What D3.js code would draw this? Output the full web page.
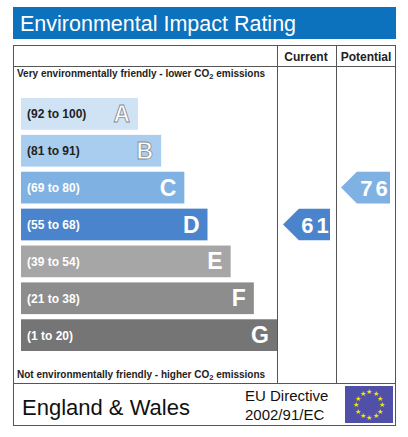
<!DOCTYPE html>
<html><head><meta charset="utf-8">
<script src="https://cdn.jsdelivr.net/npm/d3@7"></script>
<style>body{margin:0;background:#fff}</style></head>
<body><svg id="chart" width="408" height="437"></svg>
<script>
const bands = ["A", "B", "C", "D", "E", "F", "G"];
const ranges = ["(92 to 100)", "(81 to 91)", "(69 to 80)", "(55 to 68)", "(39 to 54)", "(21 to 38)", "(1 to 20)"];
const bandColors = ["#cfe3f5", "#a9cdee", "#7fb2e3", "#4a84cc", "#a6a6a6", "#8d8d8d", "#757575"];
const currentRating = 61, currentBand = "D";
const potentialRating = 76, potentialBand = "C";

const svg = d3.select("#chart");
const font = "Liberation Sans, Arial, sans-serif";

// title band
svg.append("rect").attr("x", 13).attr("y", 7).attr("width", 383).attr("height", 32).attr("fill", "#0d72bd");
svg.append("text").attr("x", 20).attr("y", 31).text("Environmental Impact Rating")
  .style("font-family", font).style("font-size", 21.5).style("fill", "#fff");

// table frame
const g = svg.append("g").style("font-family", font);
g.append("rect").attr("x", 13.5).attr("y", 45.5).attr("width", 382).attr("height", 380)
  .attr("fill", "none").attr("stroke", "#555");
[277.5, 336.5].forEach(x => g.append("line").attr("x1", x).attr("x2", x).attr("y1", 45.5).attr("y2", 383)
  .attr("stroke", "#555"));
g.append("line").attr("x1", 13.5).attr("x2", 395.5).attr("y1", 66.5).attr("y2", 66.5).attr("stroke", "#555");
g.append("line").attr("x1", 13.5).attr("x2", 395.5).attr("y1", 383.5).attr("y2", 383.5).attr("stroke", "#555");

g.append("text").attr("x", 306).attr("y", 61).attr("text-anchor", "middle").text("Current")
  .style("font-size", 12).style("font-weight", "bold").style("fill", "#222");
g.append("text").attr("x", 366).attr("y", 61).attr("text-anchor", "middle").text("Potential")
  .style("font-size", 12).style("font-weight", "bold").style("fill", "#222");

const co2 = (y, pre) => {
  const tx = g.append("text").attr("x", 17).attr("y", y).style("font-size", 10).style("font-weight", "bold").style("fill", "#222");
  tx.append("tspan").text(pre + " CO");
  tx.append("tspan").attr("dy", 2).style("font-size", 7.5).text("2");
  tx.append("tspan").attr("dy", -2).text(" emissions");
};
co2(77, "Very environmentally friendly - lower");
co2(378, "Not environmentally friendly - higher");

const y = d3.scaleBand().domain(bands).range([98, 351]).paddingInner(0.14);
const w = d3.scaleLinear().domain([0, 6]).range([117, 256]);

const row = g.selectAll(".band").data(bands).enter().append("g");
row.append("rect").attr("x", 21).attr("y", d => y(d)).attr("height", y.bandwidth())
  .attr("width", (d, i) => w(i)).attr("fill", (d, i) => bandColors[i]);
row.append("text").attr("x", 27).attr("y", d => y(d) + y.bandwidth() / 2 + 4.5)
  .text((d, i) => ranges[i]).style("font-size", 12).style("font-weight", "bold")
  .style("fill", (d, i) => i < 2 ? "#222" : "#fff");
row.append("text").attr("x", (d, i) => 21 + w(i) - 8).attr("y", d => y(d) + y.bandwidth() / 2 + 8)
  .attr("text-anchor", "end").text(d => d).style("font-size", 23).style("font-weight", "bold")
  .style("fill", "#fff").style("stroke", (d, i) => i < 2 ? "#888" : "none").style("stroke-width", 0.8);

function arrow(x0, x1, band, val) {
  const i = bands.indexOf(band);
  const top = y(band), h = y.bandwidth(), mid = top + h / 2;
  g.append("path").attr("d", `M${x0},${mid}L${x0 + h / 2},${top}H${x1}V${top + h}H${x0 + h / 2}Z`)
    .attr("fill", bandColors[i]);
  g.append("text").attr("x", (x0 + h / 2 + x1) / 2 + 2).attr("y", mid + 8).attr("text-anchor", "middle")
    .attr("letter-spacing", 3).text(String(val)).style("font-size", 22).style("font-weight", "bold").style("fill", "#fff");
}
arrow(283, 330, currentBand, currentRating);
arrow(341, 390, potentialBand, potentialRating);

// footer
g.append("text").attr("x", 22).attr("y", 415).text("England & Wales").style("font-size", 22).style("fill", "#111");
g.append("text").attr("x", 245).attr("y", 401).text("EU Directive").style("font-size", 15).style("fill", "#111");
g.append("text").attr("x", 245).attr("y", 420).text("2002/91/EC").style("font-size", 15).style("fill", "#111");
g.append("rect").attr("x", 345).attr("y", 386).attr("width", 48).attr("height", 37).attr("fill", "#5050a8");
d3.range(12).forEach(k => {
  const a = k / 12 * 2 * Math.PI;
  g.append("text").attr("x", 369 + 13 * Math.cos(a)).attr("y", 404.5 + 13 * Math.sin(a) + 2.5)
    .attr("text-anchor", "middle").text("★").style("font-size", 7).style("fill", "#f5e400");
});
</script></body></html>
